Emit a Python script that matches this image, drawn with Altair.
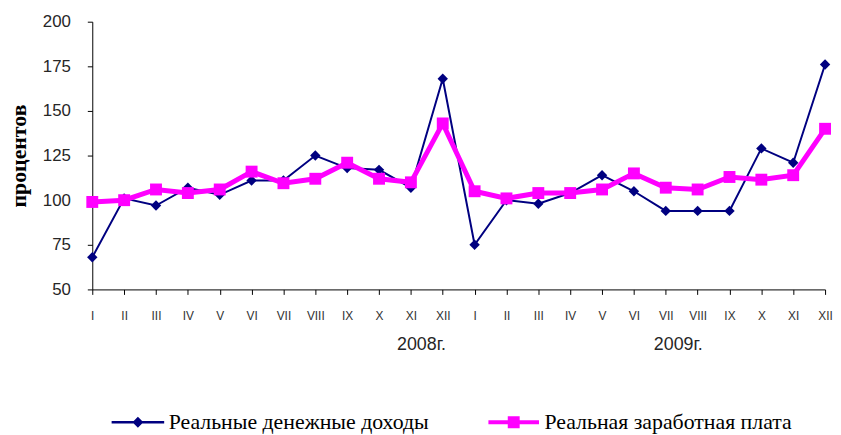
import altair as alt
import pandas as pd

roman = ["I", "II", "III", "IV", "V", "VI", "VII", "VIII", "IX", "X", "XI", "XII"]
years = ["2008г.", "2009г."]
series_names = ["Реальные денежные доходы", "Реальная заработная плата"]
income = [68, 101, 97, 107, 103, 111, 111, 125, 118, 117, 107, 168,
          75, 100, 98, 104, 114, 105, 94, 94, 94, 129, 121, 176]
wages = [99, 100, 106, 104, 106, 116, 109.5, 112, 121, 112, 110, 143,
         105, 101, 104, 104, 106, 115, 107, 106, 113, 111.5, 114, 140]
y_ticks = [50, 75, 100, 125, 150, 175, 200]

n = len(income)
idx = list(range(n))
df = pd.DataFrame({
    "i": idx + idx,
    "v": income + wages,
    "s": [series_names[0]] * n + [series_names[1]] * n,
})

roman_js = "[" + ",".join("'%s'" % r for r in roman) + "]"

x_enc = alt.X(
    "i:Q",
    scale=alt.Scale(domain=[0, n - 1], nice=False, zero=False),
    axis=alt.Axis(
        values=idx, labelExpr=roman_js + "[datum.value % 12]", title=None, grid=False,
        labelFont="Liberation Sans Narrow, Arial Narrow, Liberation Sans", labelFontSize=12,
        labelColor="#333333", labelPadding=16, tickSize=5, tickColor="#000000",
        domainColor="#000000", labelAngle=0, labelFlush=False, labelOverlap=False,
    ),
)
y_enc = alt.Y(
    "v:Q",
    scale=alt.Scale(domain=[50, 200], nice=False, zero=False),
    axis=alt.Axis(
        values=y_ticks, title="процентов", grid=False,
        titleFont="Liberation Serif", titleFontSize=22, titleFontWeight="bold",
        titleColor="#000000", titleAngle=270, titleX=-74, titleY=135,
        titleAlign="center", titleBaseline="middle",
        labelFont="Liberation Sans", labelFontSize=17, labelColor="#262626",
        labelPadding=17, tickSize=5, tickColor="#000000", domainColor="#000000",
    ),
)

base = alt.Chart(df)
navy = "#000080"
magenta = "#FF00FF"

line1 = base.transform_filter(alt.datum.s == series_names[0]).mark_line(
    color=navy, strokeWidth=2).encode(x=x_enc, y=y_enc)
pts1 = base.transform_filter(alt.datum.s == series_names[0]).mark_point(
    shape="diamond", filled=True, color=navy, size=110, opacity=1).encode(x=x_enc, y=y_enc)
line2 = base.transform_filter(alt.datum.s == series_names[1]).mark_line(
    color=magenta, strokeWidth=5).encode(x=x_enc, y=y_enc)
pts2 = base.transform_filter(alt.datum.s == series_names[1]).mark_point(
    shape="square", filled=True, color=magenta, size=144, opacity=1).encode(x=x_enc, y=y_enc)

path1 = "M-2.65,-0.12H2.65V0.12H-2.65Z M0,-0.55L0.55,0L0,0.55L-0.55,0Z"
path2 = "M-2.55,-0.2H2.55V0.2H-2.55Z M-0.6,-0.6H0.6V0.6H-0.6Z"

leg = dict(
    title=None, orient="none", legendX=35, legendY=393,
    direction="horizontal", symbolSize=400, symbolStrokeWidth=0,
    labelFont="Liberation Serif", labelFontSize=22, labelColor="#000000",
    labelLimit=500, labelOffset=20, columnPadding=59,
    symbolOpacity=1,
)

legend_layer = base.transform_filter("false").mark_point(filled=True, opacity=1).encode(
    x=x_enc, y=y_enc,
    color=alt.Color("s:N", scale=alt.Scale(domain=series_names, range=[navy, magenta]),
                    legend=alt.Legend(**leg)),
    shape=alt.Shape("s:N", scale=alt.Scale(domain=series_names, range=[path1, path2]),
                    legend=alt.Legend(**leg)),
)

year1 = alt.Chart(pd.DataFrame({"t": [years[0]]})).mark_text(
    font="Liberation Sans", fontSize=18, color="#262626",
    align="center", baseline="middle").encode(x=alt.value(332), y=alt.value(326), text="t:N")
year2 = alt.Chart(pd.DataFrame({"t": [years[1]]})).mark_text(
    font="Liberation Sans", fontSize=18, color="#262626",
    align="center", baseline="middle").encode(x=alt.value(591), y=alt.value(326), text="t:N")

chart = alt.layer(line1, pts1, line2, pts2, legend_layer, year1, year2).properties(
    width=739, height=270,
    autosize=alt.AutoSizeParams(type="none"),
    padding={"left": 85, "top": 12, "right": 8, "bottom": 145},
    background="#ffffff",
).configure_view(stroke=None)

chart.save("out.html", embed_options={"renderer": "svg", "actions": False})
